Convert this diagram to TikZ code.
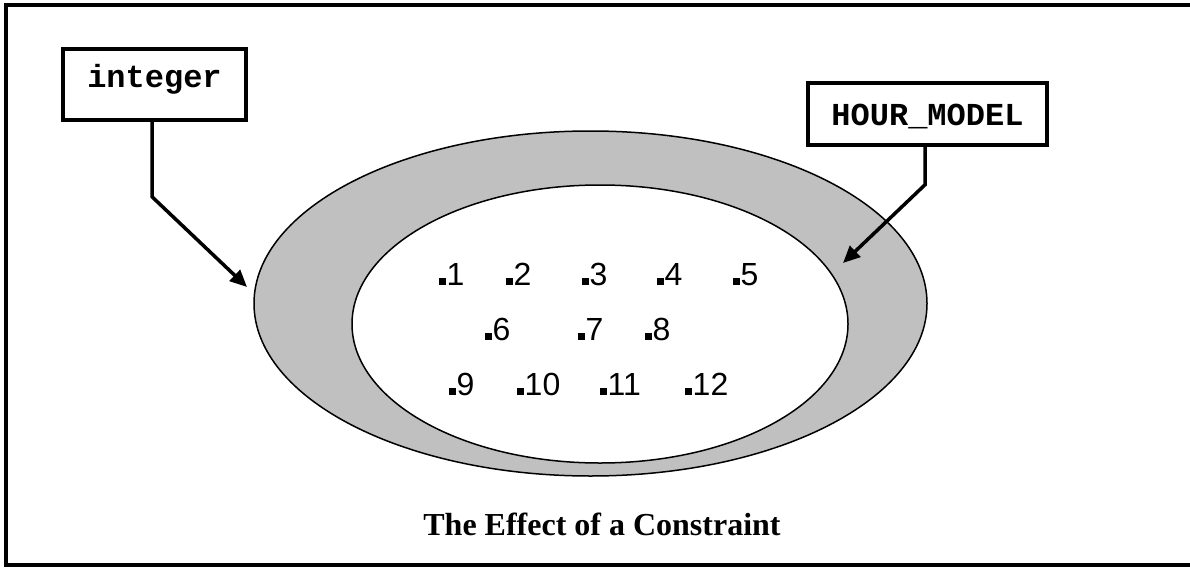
\documentclass[tikz,border=0pt]{standalone}
\usepackage{fontspec}
\setmainfont{Liberation Serif}
\newfontfamily\monofont{Liberation Mono}
\newfontfamily\arialfont{Liberation Sans}
\usetikzlibrary{arrows.meta}
\definecolor{bandgray}{RGB}{192,192,192}
\tikzset{
  typebox/.style={draw=black, line width=3.5pt, fill=white, inner sep=0pt,
    font=\monofont\bfseries\fontsize{32}{38}\selectfont},
  conn/.style={line width=3.5pt, -{Triangle[length=17pt,width=15pt]}},
  setring/.style={draw=black, line width=1.5pt},
  val/.style={anchor=base west, inner sep=0pt,
    font=\arialfont\fontsize{32}{38}\selectfont},
  caption/.style={anchor=base, inner sep=0pt,
    font=\bfseries\fontsize{32}{38}\selectfont}
}
\newcommand{\sq}{\rule{7pt}{7pt}\hspace{0.5pt}}
\begin{document}
\begin{tikzpicture}[x=1pt,y=-1pt]
\useasboundingbox (0,0) rectangle (1190,567);
% frame
\draw[line width=4pt] (1190,5) -- (6,5) -- (6,564.5) -- (1190,564.5);
% sets
\draw[setring, fill=bandgray] (590.5,303.5) ellipse [x radius=336.5, y radius=172.5];
\draw[setring, fill=white] (600,324) ellipse [x radius=248, y radius=139];
% values
\node[val] (v1) at (439,285) {\sq 1};
\node[val] (v2) at (506,285) {\sq 2};
\node[val] (v3) at (582,285) {\sq 3};
\node[val] (v4) at (657,285) {\sq 4};
\node[val] (v5) at (733,285) {\sq 5};
\node[val] (v6) at (485,340) {\sq 6};
\node[val] (v7) at (578,340) {\sq 7};
\node[val] (v8) at (645,340) {\sq 8};
\node[val] (v9) at (449,395) {\sq 9};
\node[val] (v10) at (517,395) {\sq 10};
\node[val] (v11) at (600,395) {\sq 11};
\node[val] (v12) at (685,395) {\sq 12};
% type boxes
\node[typebox, minimum width=183pt, minimum height=71pt, text height=20pt, text depth=13pt] (int) at (154.5,84.5) {integer};
\node[typebox, minimum width=239pt, minimum height=62pt, text height=22pt, text depth=0pt] (hour) at (927.5,114) {HOUR\_MODEL};
% connectors
\coordinate (tipA) at (247,287);
\coordinate (tipB) at (843,263);
\draw[conn] ([xshift=-2.5pt]int.south) -- ++(0,75) -- (tipA);
\draw[conn] ([xshift=-2.5pt]hour.south) -- ++(0,38) -- (tipB);
% caption
\node[caption] (title) at (602,535) {The Effect of a Constraint};
\end{tikzpicture}
\end{document}
